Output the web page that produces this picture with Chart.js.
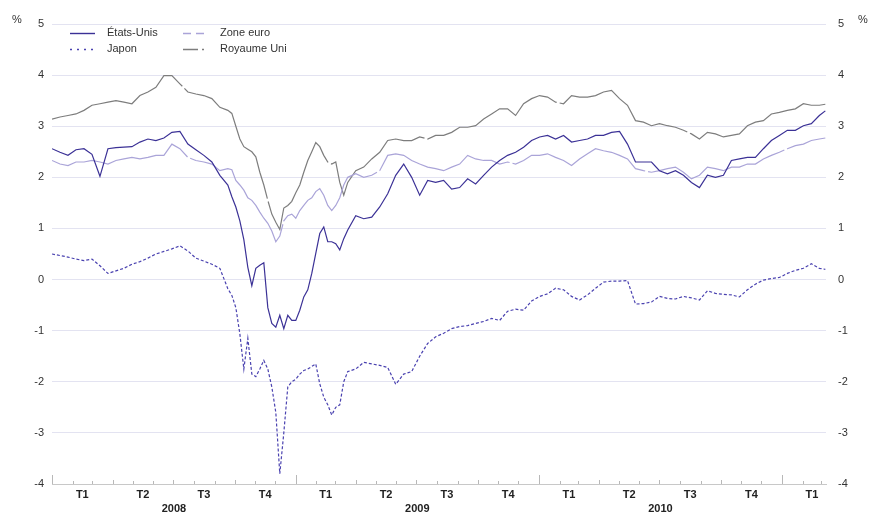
<!DOCTYPE html>
<html lang="fr">
<head>
<meta charset="utf-8">
<title>Taux</title>
<script src="https://cdn.jsdelivr.net/npm/chart.js@4/dist/chart.umd.min.js"></script>
<style>
  html, body { margin: 0; padding: 0; background: #fff; }
  #graph { display: block; }
</style>
</head>
<body>
<canvas id="graph" width="871" height="513"></canvas>
<script>
// jours depuis le 1er janvier 2008
var jours = [0, 12, 24, 36, 48, 60, 72, 84, 96, 108, 120, 132, 144, 156, 168, 180, 192, 204, 216, 228, 240, 252,
	264, 270, 276, 282, 288, 294, 300, 306, 312, 318, 324, 330, 336, 342, 348, 354, 360, 366, 372, 378, 384, 390, 396, 402, 408, 414, 420, 426, 432, 438, 444,
	456, 468, 480, 492, 504, 516, 528, 540, 552, 564, 576, 588, 600, 612, 624, 636, 648, 660, 672, 684, 696, 708, 720, 732, 744, 756, 768, 780, 792, 804, 816, 828, 840, 852, 864, 876, 888, 900, 912, 924, 936, 948, 960, 972, 984, 996, 1008, 1020, 1032, 1044, 1056, 1068, 1080, 1092, 1104, 1116, 1128, 1140, 1152,
	1161];

var etatsUnis = [2.56, 2.49, 2.43, 2.54, 2.56, 2.45, 2.02, 2.56, 2.58, 2.59, 2.6, 2.69, 2.75, 2.72, 2.77, 2.88, 2.9, 2.65, 2.54, 2.43, 2.3, 2.04,
	1.85, 1.62, 1.42, 1.15, 0.78, 0.24, -0.12, 0.22, 0.28, 0.33, -0.55, -0.86, -0.93, -0.7, -0.96, -0.7, -0.8, -0.8, -0.6, -0.34, -0.2, 0.12, 0.51, 0.9, 1.03, 0.74, 0.74, 0.7, 0.58, 0.8, 0.97,
	1.25, 1.19, 1.22, 1.42, 1.68, 2.04, 2.26, 2.0, 1.65, 1.94, 1.9, 1.94, 1.77, 1.8, 1.97, 1.87, 2.04, 2.2, 2.33, 2.43, 2.49, 2.59, 2.72, 2.79, 2.82, 2.75, 2.82, 2.69, 2.72, 2.75, 2.82, 2.82, 2.88, 2.9, 2.65, 2.3, 2.3, 2.3, 2.13, 2.07, 2.13, 2.04, 1.9, 1.8, 2.04, 2.0, 2.04, 2.33, 2.36, 2.39, 2.39, 2.56, 2.72, 2.82, 2.92, 2.92, 3.01, 3.05, 3.21,
	3.3];

var zoneEuro = [2.33, 2.26, 2.23, 2.3, 2.3, 2.33, 2.3, 2.26, 2.33, 2.36, 2.39, 2.36, 2.39, 2.43, 2.43, 2.65, 2.56, 2.39, 2.33, 2.3, 2.26, 2.13,
	2.17, 2.15, 1.94, 1.85, 1.75, 1.6, 1.55, 1.45, 1.32, 1.2, 1.1, 0.95, 0.74, 0.85, 1.15, 1.25, 1.28, 1.2, 1.35, 1.45, 1.55, 1.6, 1.72, 1.78, 1.65, 1.45, 1.35, 1.45, 1.6, 1.85, 2.0,
	2.07, 2.0, 2.04, 2.13, 2.43, 2.46, 2.43, 2.33, 2.26, 2.2, 2.17, 2.13, 2.2, 2.26, 2.43, 2.36, 2.33, 2.33, 2.26, 2.3, 2.26, 2.33, 2.43, 2.43, 2.46, 2.39, 2.33, 2.23, 2.36, 2.46, 2.56, 2.52, 2.49, 2.43, 2.36, 2.17, 2.13, 2.1, 2.13, 2.17, 2.2, 2.1, 1.97, 2.04, 2.2, 2.17, 2.13, 2.2, 2.2, 2.26, 2.26, 2.36, 2.43, 2.49, 2.56, 2.62, 2.65, 2.72, 2.75,
	2.77];

var japon = [0.5, 0.47, 0.44, 0.4, 0.37, 0.4, 0.27, 0.12, 0.17, 0.22, 0.3, 0.35, 0.42, 0.5, 0.55, 0.6, 0.66, 0.56, 0.42, 0.36, 0.3, 0.22,
	-0.18, -0.31, -0.55, -1.06, -1.75, -1.15, -1.85, -1.9, -1.75, -1.58, -1.75, -2.1, -2.6, -3.8, -3.0, -2.1, -2.0, -1.95, -1.85, -1.78, -1.75, -1.7, -1.65, -2.04, -2.3, -2.45, -2.65, -2.5, -2.45, -2.0, -1.8,
	-1.75, -1.62, -1.65, -1.68, -1.72, -2.05, -1.85, -1.8, -1.5, -1.25, -1.12, -1.05, -0.96, -0.92, -0.9, -0.86, -0.82, -0.76, -0.8, -0.62, -0.58, -0.6, -0.42, -0.33, -0.28, -0.17, -0.2, -0.33, -0.4, -0.3, -0.17, -0.05, -0.03, -0.03, -0.02, -0.48, -0.47, -0.44, -0.33, -0.37, -0.38, -0.33, -0.36, -0.4, -0.22, -0.27, -0.29, -0.3, -0.34, -0.2, -0.09, -0.01, 0.02, 0.04, 0.12, 0.18, 0.22, 0.31, 0.22,
	0.2];

var royaumeUni = [3.14, 3.18, 3.21, 3.24, 3.31, 3.41, 3.44, 3.47, 3.5, 3.47, 3.44, 3.6, 3.67, 3.76, 3.99, 3.99, 3.83, 3.67, 3.63, 3.6, 3.54, 3.37,
	3.31, 3.25, 3.0, 2.75, 2.6, 2.55, 2.5, 2.4, 2.1, 1.85, 1.55, 1.28, 1.12, 0.98, 1.4, 1.45, 1.53, 1.7, 1.85, 2.1, 2.33, 2.5, 2.68, 2.6, 2.43, 2.3, 2.26, 2.3, 1.9, 1.65, 1.9,
	2.13, 2.2, 2.36, 2.49, 2.72, 2.75, 2.72, 2.72, 2.79, 2.75, 2.82, 2.82, 2.88, 2.98, 2.98, 3.01, 3.14, 3.24, 3.34, 3.34, 3.21, 3.44, 3.54, 3.6, 3.57, 3.47, 3.44, 3.6, 3.57, 3.57, 3.6, 3.67, 3.7, 3.54, 3.41, 3.11, 3.08, 3.01, 3.05, 3.01, 2.98, 2.92, 2.85, 2.75, 2.88, 2.85, 2.79, 2.82, 2.85, 3.01, 3.08, 3.11, 3.24, 3.27, 3.31, 3.34, 3.44, 3.41, 3.41,
	3.43];

// axe des temps
var trimestres = [45.5, 136.5, 228, 320, 411, 501.5, 593, 685, 776, 866.5, 958, 1050, 1141];
var libellesTrimestres = ['T1', 'T2', 'T3', 'T4', 'T1', 'T2', 'T3', 'T4', 'T1', 'T2', 'T3', 'T4', 'T1'];
var milieuxAnnees = [183, 548.5, 913.5];
var annees = ['2008', '2009', '2010'];
var finAxe = 1162;

function serie(valeurs) {
	return jours.map(function(d, i) { return {x: d, y: valeurs[i]}; });
}

Chart.defaults.font.family = "'Liberation Sans', Arial, Helvetica, sans-serif";
Chart.defaults.font.size = 11;
Chart.defaults.color = '#333';

var decor = {
	id: 'decor',
	afterDraw: function(chart) {
		var ctx = chart.ctx;
		var area = chart.chartArea;
		var xs = chart.scales.x;

		// graduations mensuelles
		ctx.save();
		ctx.strokeStyle = '#b8b8b8';
		ctx.lineWidth = 1;
		for (var m = 0; m < 40; m++) {
			var d = (Date.UTC(2008, m, 1) - Date.UTC(2008, 0, 1)) / 864e5;
			if (d > finAxe) break;
			var px = Math.round(xs.getPixelForValue(d)) + 0.5;
			var h = (m % 12 === 0) ? 9 : ((m % 3 === 0) ? 4 : 3);
			ctx.beginPath();
			ctx.moveTo(px, area.bottom);
			ctx.lineTo(px, area.bottom - h);
			ctx.stroke();
		}

		// unités
		ctx.fillStyle = '#333';
		ctx.font = "11px 'Liberation Sans', Arial, sans-serif";
		ctx.textAlign = 'center';
		ctx.textBaseline = 'middle';
		ctx.fillText('%', 17, 20);
		ctx.fillText('%', 863, 20);

		// légende
		var places = [[70, 33], [183, 33], [70, 49], [183, 49]];
		ctx.textAlign = 'left';
		chart.data.datasets.forEach(function(ds, j) {
			var p = places[j];
			ctx.beginPath();
			ctx.setLineDash(ds.legendDash);
			ctx.strokeStyle = ds.borderColor;
			ctx.lineWidth = 1.4;
			ctx.moveTo(p[0], p[1] + 0.5);
			ctx.lineTo(p[0] + 25, p[1] + 0.5);
			ctx.stroke();
			ctx.setLineDash([]);
			ctx.fillStyle = '#333';
			ctx.fillText(ds.label, p[0] + 37, p[1]);
		});
		ctx.restore();
	}
};

var ctx = document.getElementById('graph');

var graph = new Chart(ctx, {
	type: 'line',
	data: {
		datasets: [
			{
				label: 'États-Unis',
				data: serie(etatsUnis),
				borderColor: '#3b3196',
				borderWidth: 1.2,
				legendDash: []
			},
			{
				label: 'Zone euro',
				data: serie(zoneEuro),
				borderColor: '#aaa4d8',
				borderWidth: 1.2,
				borderDash: [150, 3],
				legendDash: [8, 5]
			},
			{
				label: 'Japon',
				data: serie(japon),
				borderColor: '#4a42b0',
				borderWidth: 1.2,
				borderDash: [3, 2],
				legendDash: [2, 5]
			},
			{
				label: 'Royaume Uni',
				data: serie(royaumeUni),
				borderColor: '#7d7d7d',
				borderWidth: 1.2,
				borderDash: [150, 3],
				legendDash: [15, 4, 2, 4]
			}
		]
	},
	options: {
		responsive: false,
		animation: false,
		devicePixelRatio: 1,
		layout: { padding: { top: 24, left: 0, right: 0, bottom: 0 } },
		elements: {
			point: { radius: 0, hoverRadius: 0 },
			line: { tension: 0, fill: false }
		},
		plugins: {
			legend: { display: false },
			tooltip: { enabled: false }
		},
		scales: {
			x: {
				type: 'linear',
				position: 'bottom',
				weight: 0,
				min: 0,
				max: finAxe,
				afterBuildTicks: function(s) {
					s.ticks = trimestres.map(function(v) { return {value: v}; });
				},
				ticks: {
					autoSkip: false,
					maxRotation: 0,
					padding: 4,
					color: '#222',
					font: { size: 11, weight: 'bold' },
					callback: function(v, i) { return libellesTrimestres[i]; }
				},
				grid: { display: false, drawTicks: false },
				border: { display: true, color: '#c8c8c8' },
				afterFit: function(s) { s.height = 16; }
			},
			annee: {
				type: 'linear',
				position: 'bottom',
				weight: 1,
				min: 0,
				max: finAxe,
				afterBuildTicks: function(s) {
					s.ticks = milieuxAnnees.map(function(v) { return {value: v}; });
				},
				ticks: {
					autoSkip: false,
					maxRotation: 0,
					padding: 2,
					color: '#222',
					font: { size: 11, weight: 'bold' },
					callback: function(v, i) { return annees[i]; }
				},
				grid: { display: false, drawTicks: false },
				border: { display: false },
				afterFit: function(s) { s.height = 13; }
			},
			y: {
				position: 'left',
				min: -4,
				max: 5,
				ticks: { stepSize: 1, padding: 8, color: '#333', font: { size: 11 } },
				grid: {
					drawTicks: false,
					color: function(c) { return c.tick && c.tick.value === -4 ? 'rgba(0,0,0,0)' : '#e3e3f1'; }
				},
				border: { display: false },
				afterFit: function(s) { s.width = 52; }
			},
			y2: {
				position: 'right',
				min: -4,
				max: 5,
				ticks: { stepSize: 1, padding: 12, color: '#333', font: { size: 11 } },
				grid: { display: false, drawTicks: false },
				border: { display: false },
				afterFit: function(s) { s.width = 45; }
			}
		}
	},
	plugins: [decor]
});
</script>
</body>
</html>
